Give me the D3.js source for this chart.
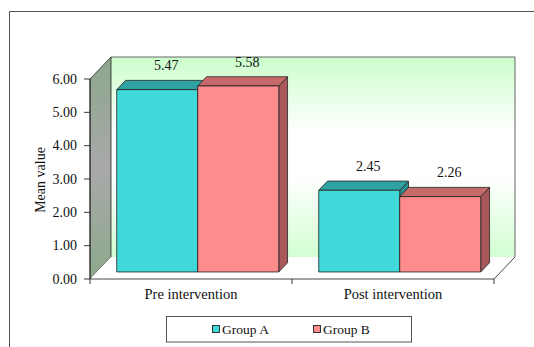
<!DOCTYPE html>
<html>
<head>
<meta charset="utf-8">
<script src="https://cdn.jsdelivr.net/npm/d3@7/dist/d3.min.js"></script>
<style>
  html, body { margin: 0; padding: 0; background: #fff; }
  svg { display: block; }
</style>
</head>
<body>
<svg id="chart" width="534" height="347"></svg>
<script>
// Chart data
const categories = ["Pre intervention", "Post intervention"];
const seriesNames = ["Group A", "Group B"];
const groupA = [5.47, 2.45];
const groupB = [5.58, 2.26];
const yTicks = [0, 1, 2, 3, 4, 5, 6];

const seriesValues = [groupA, groupB];
const colors = [
  { front: "#40D8D8", top: "#2FA3A3", side: "#2A8C8C" },
  { front: "#FF8C8C", top: "#C86A6A", side: "#A85858" }
];
const FONT = "'Liberation Serif', 'Times New Roman', Times, serif";

const svg = d3.select("#chart")
  .attr("font-family", FONT)
  .style("font-family", FONT);

// Front plane of the 3D plot box
const plotL = 90, plotR = 494, plotB = 279, plotT = 79;
const depthX = 21, depthY = 22;          // floor depth projection
const z0 = 0.32, z1 = 0.74;              // bars occupy this slice of the depth

const y = d3.scaleLinear().domain([0, 6]).range([plotB, plotT]);
const x = d3.scaleBand().domain(categories).range([plotL, plotR]).paddingInner(0).paddingOuter(0);
const xs = d3.scaleBand().domain(seriesNames).range([20, x.bandwidth() - 20]).padding(0);

// project (screen x, screen y on front plane, depth fraction) into the picture
const P = (px, py, z) => [px + z * depthX, py - z * depthY];
const poly = pts => "M" + pts.map(p => p.join(",")).join("L") + "Z";
const pline = pts => "M" + pts.map(p => p.join(",")).join("L");

// gradients
const defs = svg.append("defs");
const wallGrad = defs.append("linearGradient").attr("id", "wallGrad")
  .attr("x1", 0).attr("y1", 0).attr("x2", 0).attr("y2", 1);
[[0, "#CCFFCC"], [0.38, "#FFFFFF"], [0.6, "#FFFFFF"], [1, "#D2FFD2"]].forEach(([o, c]) =>
  wallGrad.append("stop").attr("offset", o).attr("stop-color", c));
const sideGrad = defs.append("linearGradient").attr("id", "sideGrad")
  .attr("x1", 0).attr("y1", 0).attr("x2", 0).attr("y2", 1);
[[0, "#8CA78C"], [0.5, "#A9A9A9"], [1, "#8CA98C"]].forEach(([o, c]) =>
  sideGrad.append("stop").attr("offset", o).attr("stop-color", c));

// outer frame
svg.append("path").attr("d", "M9.5,347V11.5H534")
  .attr("fill", "none").attr("stroke", "#555").attr("stroke-width", 1);

// back wall
const bw = [P(plotL, plotT, 1), P(plotR, plotT, 1), P(plotR, plotB, 1), P(plotL, plotB, 1)];
svg.append("path").attr("d", poly(bw)).attr("fill", "url(#wallGrad)").attr("stroke", "none");
svg.append("path").attr("d", pline([bw[0], bw[1], bw[2]]))
  .attr("fill", "none").attr("stroke", "#666").attr("stroke-width", 1);

// side wall
const sw = [P(plotL, plotT, 0), P(plotL, plotT, 1), P(plotL, plotB, 1), P(plotL, plotB, 0)];
svg.append("path").attr("d", poly(sw)).attr("fill", "url(#sideGrad)")
  .attr("stroke", "#222").attr("stroke-width", 0.8);

// floor
const fl = [P(plotL, plotB, 0), P(plotR, plotB, 0), P(plotR, plotB, 1), P(plotL, plotB, 1)];
svg.append("path").attr("d", poly(fl)).attr("fill", "#fff").attr("stroke", "none");
svg.append("path").attr("d", pline([fl[0], fl[1], fl[2]]))
  .attr("fill", "none").attr("stroke", "#333").attr("stroke-width", 0.9);

// y axis
const yAxis = svg.append("g");
yAxis.append("line").attr("x1", plotL).attr("x2", plotL).attr("y1", y(6)).attr("y2", y(0))
  .attr("stroke", "#222").attr("stroke-width", 0.9);
yAxis.selectAll("line.tick").data(yTicks).join("line").attr("class", "tick")
  .attr("x1", plotL - 6).attr("x2", plotL).attr("y1", d => y(d)).attr("y2", d => y(d))
  .attr("stroke", "#222").attr("stroke-width", 0.9);
yAxis.selectAll("text").data(yTicks).join("text")
  .attr("x", plotL - 13).attr("y", d => y(d)).attr("dy", "0.34em")
  .attr("text-anchor", "end").attr("font-size", 14).attr("fill", "#111")
  .text(d => d.toFixed(2));

svg.append("text").attr("transform", "translate(45,180) rotate(-90)")
  .attr("text-anchor", "middle").attr("font-size", 14).attr("fill", "#111").text("Mean value");

// x axis ticks and labels
const xEdges = [plotL, ...categories.slice(1).map(c => x(c)), plotR];
svg.selectAll("line.xtick").data(xEdges).join("line").attr("class", "xtick")
  .attr("x1", d => d).attr("x2", d => d).attr("y1", plotB).attr("y2", plotB + 5)
  .attr("stroke", "#222").attr("stroke-width", 0.9);
svg.selectAll("text.xlab").data(categories).join("text").attr("class", "xlab")
  .attr("x", d => x(d) + x.bandwidth() / 2).attr("y", plotB + 20)
  .attr("text-anchor", "middle").attr("font-size", 14.5).attr("fill", "#111").text(d => d);

// bars
const bars = svg.append("g");
categories.forEach((cat, ci) => {
  seriesNames.forEach((s, si) => {
    const v = seriesValues[si][ci];
    const x0 = x(cat) + xs(s), x1 = x0 + xs.bandwidth();
    const yt = y(v), yb = y(0);
    const c = colors[si];
    const front = [P(x0, yt, z0), P(x1, yt, z0), P(x1, yb, z0), P(x0, yb, z0)];
    const topF = [P(x0, yt, z0), P(x0, yt, z1), P(x1, yt, z1), P(x1, yt, z0)];
    const side = [P(x1, yt, z0), P(x1, yt, z1), P(x1, yb, z1), P(x1, yb, z0)];
    bars.append("path").attr("d", poly(side)).attr("fill", c.side).attr("stroke", "#222").attr("stroke-width", 0.8);
    bars.append("path").attr("d", poly(topF)).attr("fill", c.top).attr("stroke", "#222").attr("stroke-width", 0.8);
    bars.append("path").attr("d", poly(front)).attr("fill", c.front).attr("stroke", "#222").attr("stroke-width", 0.8);
  });
});

// value labels
categories.forEach((cat, ci) => {
  seriesNames.forEach((s, si) => {
    const v = seriesValues[si][ci];
    const cx = x(cat) + xs(s) + xs.bandwidth() / 2;
    const p = P(cx, y(v), z0);
    svg.append("text").attr("x", p[0] + 9).attr("y", p[1] - 24).attr("dy", "0.34em")
      .attr("text-anchor", "middle").attr("font-size", 14).attr("fill", "#111").text(v.toFixed(2));
  });
});

// legend
const lg = svg.append("g");
lg.append("rect").attr("x", 166.5).attr("y", 316.5).attr("width", 245).attr("height", 25.5)
  .attr("fill", "#fff").attr("stroke", "#555").attr("stroke-width", 1);
const legendX = [212, 313];
seriesNames.forEach((s, i) => {
  lg.append("rect").attr("x", legendX[i] + 0.5).attr("y", 325.5).attr("width", 7).attr("height", 7)
    .attr("fill", colors[i].front).attr("stroke", "#222").attr("stroke-width", 0.9);
  lg.append("text").attr("x", legendX[i] + 10).attr("y", 329).attr("dy", "0.34em")
    .attr("font-size", 13.5).attr("fill", "#111").text(s);
});
</script>
</body>
</html>
